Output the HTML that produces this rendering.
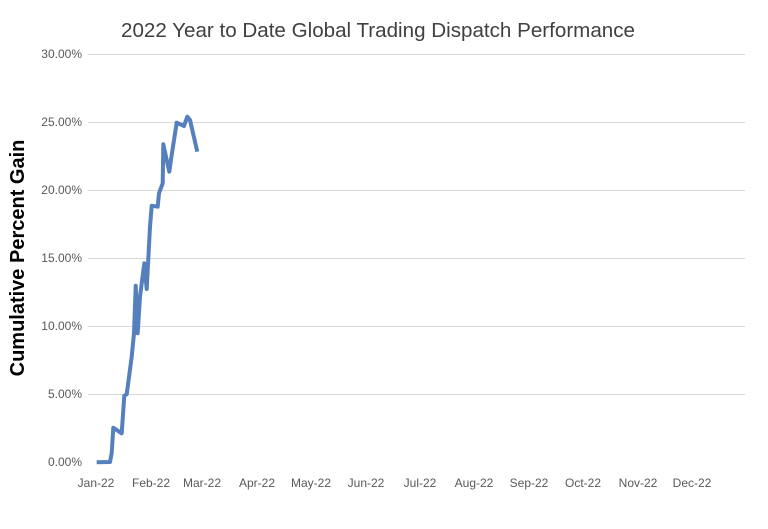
<!DOCTYPE html>
<html><head><meta charset="utf-8"><style>
body{margin:0;background:#fff}
svg text{font-family:"Liberation Sans",sans-serif}
</style></head><body>
<svg width="768" height="524" viewBox="0 0 768 524" xmlns="http://www.w3.org/2000/svg">
<rect width="768" height="524" fill="#fff"/>
<text x="378" y="37" font-size="20.6" fill="#404040" text-anchor="middle">2022 Year to Date Global Trading Dispatch Performance</text>
<g stroke="#d9d9d9" stroke-width="1">
<line x1="88" x2="745" y1="54.5" y2="54.5"/>
<line x1="88" x2="745" y1="122.5" y2="122.5"/>
<line x1="88" x2="745" y1="190.5" y2="190.5"/>
<line x1="88" x2="745" y1="258.5" y2="258.5"/>
<line x1="88" x2="745" y1="326.5" y2="326.5"/>
<line x1="88" x2="745" y1="394.5" y2="394.5"/>
</g>
<g font-size="12" fill="#595959" text-anchor="end">
<text x="82" y="58">30.00%</text>
<text x="82" y="126">25.00%</text>
<text x="82" y="194">20.00%</text>
<text x="82" y="262">15.00%</text>
<text x="82" y="330">10.00%</text>
<text x="82" y="398">5.00%</text>
<text x="82" y="466">0.00%</text>
</g>
<g font-size="12" fill="#595959" text-anchor="middle">
<text x="96" y="487">Jan-22</text>
<text x="151" y="487">Feb-22</text>
<text x="202" y="487">Mar-22</text>
<text x="257" y="487">Apr-22</text>
<text x="311" y="487">May-22</text>
<text x="366" y="487">Jun-22</text>
<text x="420" y="487">Jul-22</text>
<text x="474" y="487">Aug-22</text>
<text x="529" y="487">Sep-22</text>
<text x="583" y="487">Oct-22</text>
<text x="638" y="487">Nov-22</text>
<text x="692" y="487">Dec-22</text>
</g>
<text transform="translate(24,258) rotate(-90)" font-size="20" font-weight="bold" fill="#000" text-anchor="middle">Cumulative Percent Gain</text>
<polyline fill="none" stroke="#5580bd" stroke-width="4" stroke-linejoin="round" points="96.7,462.3 110,462 111.7,453 113.3,427.7 121.7,433.3 124.3,395.7 126.7,394.3 131.7,356.7 134,333.3 135.7,285.7 137.7,333.3 140,296.7 144.3,263.3 146.7,289 150,226.7 151.7,205.7 157.7,206.7 159,193.3 162.7,183.3 163.3,144.3 169.3,171.7 171.7,155 176.7,122.7 184,126 187.3,116.7 190,120 197.3,151.7"/>
</svg>
</body></html>
